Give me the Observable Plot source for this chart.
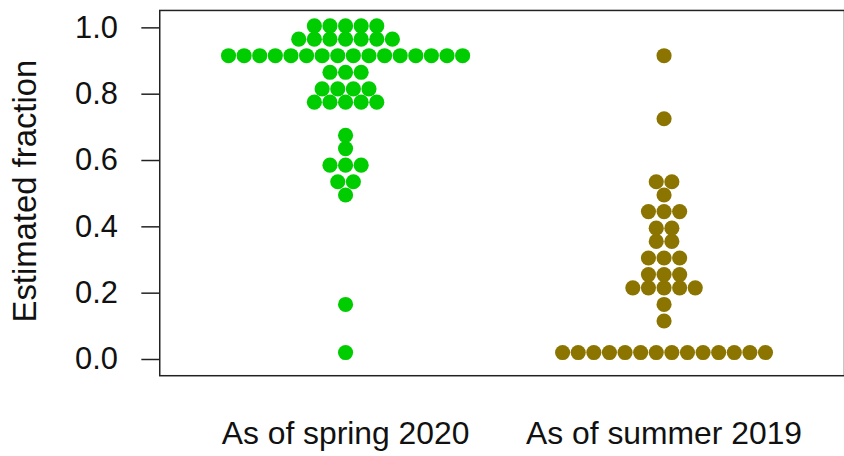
<!DOCTYPE html>
<html>
<head>
<meta charset="utf-8">
<script src="https://cdn.jsdelivr.net/npm/d3@7"></script>
<script src="https://cdn.jsdelivr.net/npm/@observablehq/plot@0.6"></script>
<style>
  html, body { margin: 0; padding: 0; background: #fff; overflow: hidden; }
</style>
</head>
<body>
<div id="chart"></div>
<script>
// Group labels, in plotting order
const groups = ["As of spring 2020", "As of summer 2019"];

// Estimated fraction per respondent, spring 2020
const spring2020 = [
  1.00, 1.00, 1.00, 1.00, 1.00,
  0.96, 0.96, 0.96, 0.96, 0.96, 0.96, 0.96,
  0.91, 0.91, 0.91, 0.91, 0.91, 0.91, 0.91, 0.91,
  0.91, 0.91, 0.91, 0.91, 0.91, 0.91, 0.91, 0.91,
  0.86, 0.86, 0.86,
  0.81, 0.81, 0.81, 0.81,
  0.77, 0.77, 0.77, 0.77, 0.77,
  0.67,
  0.63,
  0.58, 0.58, 0.58,
  0.53, 0.53,
  0.49,
  0.16,
  0.015
];

// Estimated fraction per respondent, summer 2019
const summer2019 = [
  0.91,
  0.72,
  0.53, 0.53,
  0.49,
  0.44, 0.44, 0.44,
  0.39, 0.39,
  0.35, 0.35,
  0.30, 0.30, 0.30,
  0.25, 0.25, 0.25,
  0.21, 0.21, 0.21, 0.21, 0.21,
  0.16,
  0.11,
  0.015, 0.015, 0.015, 0.015, 0.015, 0.015, 0.015,
  0.015, 0.015, 0.015, 0.015, 0.015, 0.015, 0.015
];

const yTicks = [0, 0.2, 0.4, 0.6, 0.8, 1.0];
const groupColors = ["#00CD00", "#8B7500"];

// Beeswarm "center" layout: dots sharing a value are spread symmetrically
// around their group's position, one dot diameter apart (in x units).
const SLOT = 0.049;
function swarm(values, g) {
  const counts = d3.rollup(values, v => v.length, d => d);
  const seen = new Map();
  return values.map(v => {
    const n = counts.get(v);
    const k = seen.get(v) ?? 0;
    seen.set(v, k + 1);
    return {group: g, value: v, pos: g + 1 + (k - (n - 1) / 2) * SLOT};
  });
}

const springDots = swarm(spring2020, 0);
const summerDots = swarm(summer2019, 1);

const font = "'Liberation Sans', Arial, Helvetica, sans-serif";

const chart = Plot.plot({
  width: 848,
  height: 456,
  marginLeft: 160,
  marginRight: 0,
  marginTop: 10,
  marginBottom: 79,
  style: {fontFamily: font, fontSize: "31px", color: "#111", background: "#fff", overflow: "visible"},
  x: {domain: [1, 2], range: [346.7, 666.7]},
  y: {domain: [0, 1], range: [358.7, 25.5]},
  marks: [
    Plot.frame({stroke: "#222", strokeWidth: 1.5}),
    Plot.axisY({
      ticks: yTicks,
      tickFormat: d3.format(".1f"),
      tickSize: 18,
      tickPadding: 24,
      stroke: "#222",
      strokeWidth: 1.5,
      dy: 2,
      label: null
    }),
    Plot.axisX({
      ticks: [1, 2],
      tickFormat: i => groups[i - 1],
      tickSize: 0,
      tickPadding: 46,
      fontSize: 32,
      label: null
    }),
    Plot.text(["Estimated fraction"], {
      text: d => d,
      frameAnchor: "left",
      textAnchor: "middle",
      rotate: -90,
      dx: -135,
      dy: -2,
      fontSize: 33,
      fill: "#111"
    }),
    Plot.dot(springDots, {x: "pos", y: "value", r: 7.6, fill: groupColors[0], stroke: null}),
    Plot.dot(summerDots, {x: "pos", y: "value", r: 7.6, fill: groupColors[1], stroke: null})
  ]
});

document.getElementById("chart").appendChild(chart);
</script>
</body>
</html>
